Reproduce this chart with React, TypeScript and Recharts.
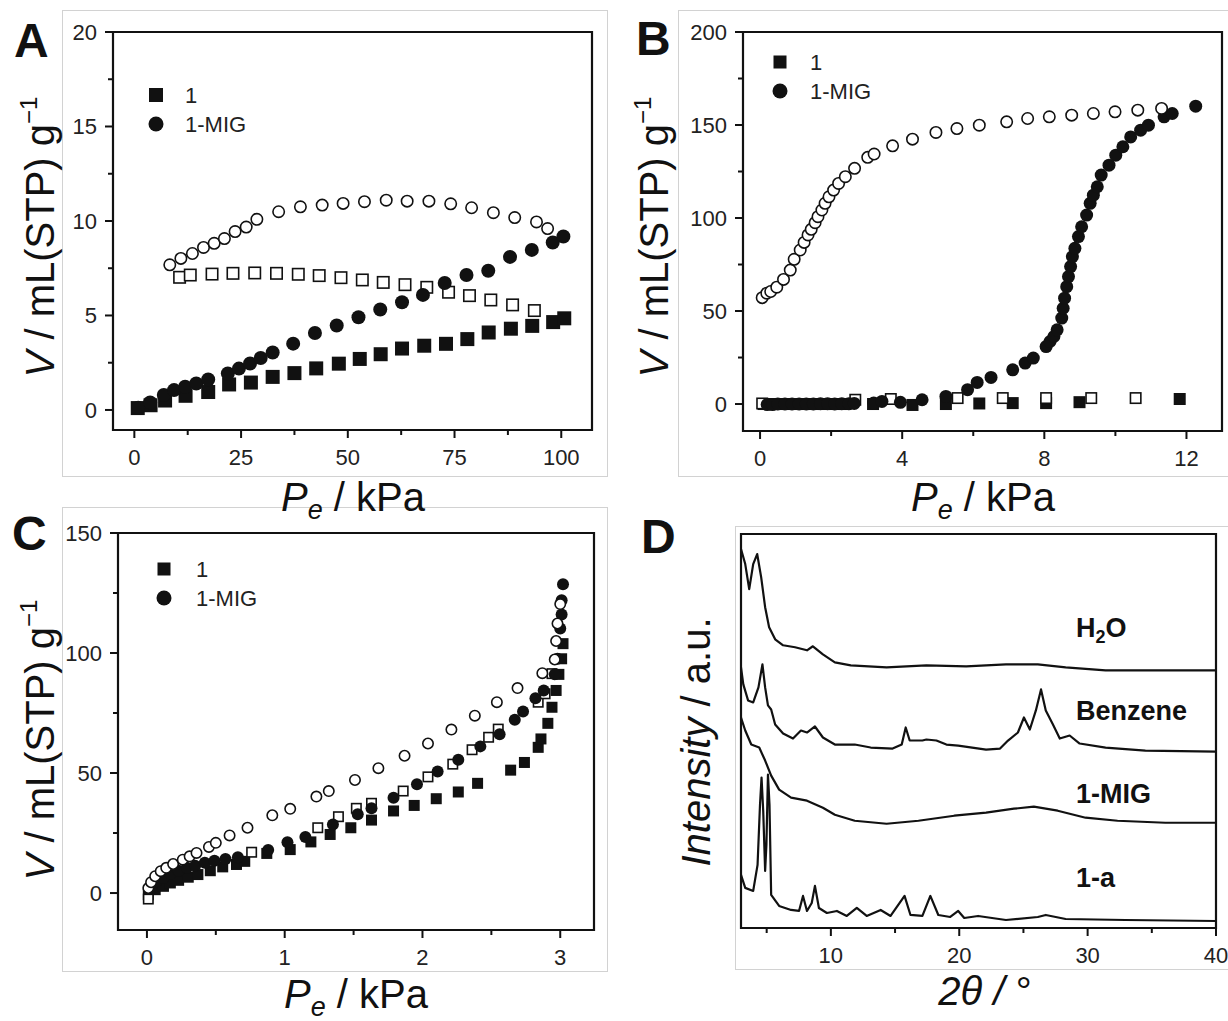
import React from "react"
import {
  ScatterChart,
  Scatter,
  LineChart,
  Line,
  XAxis,
  YAxis,
  ReferenceArea,
  Legend,
} from "recharts"

type Pt = [number, number]

// ---- panel A : 0-100 kPa isotherms ----
const A_1_ADS: Pt[] = [
  [0.8, 0.1], [3.8, 0.25], [7.2, 0.5], [12, 0.75], [17.3, 0.95], [22.2, 1.35],
  [27.3, 1.45], [32.4, 1.75], [37.5, 1.95], [42.6, 2.2], [47.9, 2.45], [52.8, 2.7],
  [57.7, 2.95], [62.7, 3.25], [67.9, 3.4], [73, 3.5], [78, 3.75], [83, 4.1],
  [88.2, 4.3], [93.2, 4.45], [98.1, 4.65], [100.7, 4.85],
]
const A_1_DES: Pt[] = [
  [10.6, 7.02], [13.1, 7.14], [18.2, 7.19], [23.1, 7.23], [28.2, 7.25], [33.3, 7.23],
  [38.4, 7.18], [43.3, 7.11], [48.4, 7.0], [53.4, 6.88], [58.3, 6.75], [63.4, 6.63],
  [68.5, 6.49], [73.6, 6.23], [78.5, 6.05], [83.5, 5.82], [88.6, 5.56], [93.7, 5.26],
]
const A_MIG_ADS: Pt[] = [
  [0.9, 0.12], [3.7, 0.4], [6.9, 0.79], [9.3, 1.05], [11.9, 1.23], [14.5, 1.4],
  [17.3, 1.61], [21.9, 1.93], [24.5, 2.19], [27.1, 2.46], [29.6, 2.75], [32.4, 3.04],
  [37.2, 3.51], [42.3, 4.07], [47.4, 4.47], [52.5, 4.91], [57.6, 5.32], [62.7, 5.7],
  [67.6, 6.09], [72.7, 6.72], [77.8, 7.14], [82.9, 7.37], [88, 8.1], [93.1, 8.47],
  [98, 8.86], [100.5, 9.18],
]
const A_MIG_DES: Pt[] = [
  [8.3, 7.68], [10.9, 8.02], [13.6, 8.28], [16.2, 8.6], [18.7, 8.82], [21.1, 9.07],
  [23.6, 9.44], [26.2, 9.68], [28.7, 10.09], [33.8, 10.49], [38.9, 10.75], [44, 10.84],
  [48.9, 10.93], [53.9, 11.02], [59, 11.1], [63.9, 11.05], [69, 11.05], [74.1, 10.91],
  [79, 10.7], [84.1, 10.44], [89.1, 10.18], [94.2, 9.95], [96.8, 9.6],
]
const A_X_TICKS = [0, 12.5, 25, 37.5, 50, 62.5, 75, 87.5, 100]
const A_X_MAJOR = [0, 25, 50, 75, 100]
const A_Y_TICKS = [0, 2.5, 5, 7.5, 10, 12.5, 15, 17.5, 20]
const A_Y_MAJOR = [0, 5, 10, 15, 20]

// ---- panel B : 0-12 kPa isotherms ----
const B_1_ADS: Pt[] = [
  [0.1, 0], [0.35, 0], [0.6, 0], [0.9, 0], [1.2, 0], [1.5, 0], [1.8, 0], [2.1, 0],
  [2.4, 0], [3.18, 0], [4.29, -0.5], [5.23, 0], [6.17, 0.3], [7.11, 0.5], [8.05, 0.5],
  [8.99, 1], [11.81, 2.7],
]
const B_1_DES: Pt[] = [
  [0.06, 0.3], [2.68, 2.3], [3.68, 2.7], [5.56, 3.2], [6.83, 3.2], [8.05, 3.2],
  [9.32, 3.2], [10.57, 3.2],
]
const B_MIG_ADS: Pt[] = [
  [0.2, -0.3], [0.35, -0.3], [0.5, 0], [0.7, 0], [0.9, 0], [1.1, 0], [1.3, 0],
  [1.5, 0], [1.7, 0.2], [1.9, 0.2], [2.1, 0], [2.3, 0.2], [2.5, 0.2], [2.65, 0.3],
  [3.2, 0.5], [3.43, 1.4], [3.95, 0.9], [4.56, 2.3], [5.23, 4.1], [5.84, 7.7],
  [6.11, 11.6], [6.5, 14.3], [7.11, 18.4], [7.46, 22], [7.69, 24.7], [8.05, 30.9],
  [8.16, 33.6], [8.27, 36.3], [8.36, 39.9], [8.49, 46.2], [8.53, 51.5], [8.57, 56.9],
  [8.63, 63.1], [8.68, 68.5], [8.74, 73.9], [8.79, 79.2], [8.86, 83.7], [8.96, 90],
  [9.05, 95.3], [9.19, 101.6], [9.29, 107.9], [9.38, 112.3], [9.49, 116.8],
  [9.6, 123.1], [9.82, 128.4], [10.01, 133.8], [10.21, 138.3], [10.43, 143.6],
  [10.71, 147.2], [10.93, 149.9], [11.37, 154.4], [11.6, 156.2], [12.26, 160.1],
]
const B_MIG_DES: Pt[] = [
  [0.06, 57.2], [0.19, 59.6], [0.3, 60.5], [0.47, 62.8], [0.66, 67], [0.85, 72],
  [0.96, 77.8], [1.13, 82.8], [1.24, 86.9], [1.35, 90.9], [1.44, 93.9], [1.55, 97.5],
  [1.63, 100.7], [1.74, 104.3], [1.83, 107.9], [1.94, 111.4], [2.07, 115], [2.21, 118.6],
  [2.4, 122.2], [2.66, 126.7], [3.03, 132.6], [3.21, 134.4], [3.73, 138.8], [4.29, 142.4],
  [4.95, 146], [5.54, 148.1], [6.17, 149.9], [6.94, 151.7], [7.53, 153.5], [8.14, 154.4],
  [8.77, 155.3], [9.38, 156.2], [9.99, 157.1], [10.63, 158], [11.3, 158.9],
]
const B_X_TICKS = [0, 2, 4, 6, 8, 10, 12]
const B_X_MAJOR = [0, 4, 8, 12]
const B_Y_TICKS = [0, 25, 50, 75, 100, 125, 150, 175, 200]
const B_Y_MAJOR = [0, 50, 100, 150, 200]

// ---- panel C : 0-3 kPa isotherms ----
const C_1_ADS: Pt[] = [
  [0.01, -0.7], [0.06, 1.4], [0.12, 2.8], [0.17, 4.2], [0.23, 5.3], [0.3, 6.6],
  [0.37, 7.7], [0.46, 9.3], [0.55, 10.9], [0.65, 11.9], [0.71, 13.2], [0.87, 16.5],
  [1.04, 18.1], [1.19, 21.3], [1.33, 24.4], [1.48, 27.2], [1.63, 30.4], [1.79, 34.2],
  [1.94, 36.5], [2.1, 39.3], [2.26, 42.1], [2.4, 45.7], [2.64, 51.2], [2.74, 54.4],
  [2.84, 60.7], [2.86, 64.2], [2.91, 70.7], [2.94, 77.4], [2.97, 84.4], [2.99, 91.1],
  [3.01, 97.6], [3.02, 103.9],
]
const C_1_DES: Pt[] = [
  [0.01, -2.5], [0.76, 17], [1.24, 27.2], [1.39, 31.8], [1.52, 35.3], [1.63, 37.4],
  [1.86, 42.5], [2.04, 48.4], [2.22, 53.7], [2.36, 59.7], [2.48, 64.9], [2.55, 68.3],
  [2.84, 79.5], [2.89, 83], [2.94, 91.4],
]
const C_MIG_ADS: Pt[] = [
  [0.03, 2.1], [0.07, 4.9], [0.12, 6.3], [0.17, 7.9], [0.23, 9.3], [0.29, 10.5],
  [0.35, 11.4], [0.42, 12.6], [0.49, 13.5], [0.57, 14.2], [0.66, 14.9], [0.88, 17.9],
  [1.02, 21.2], [1.15, 23.3], [1.35, 28.6], [1.53, 32.8], [1.63, 35.3], [1.79, 39.7],
  [1.96, 45.3], [2.11, 50.6], [2.26, 55.5], [2.42, 61.1], [2.56, 66.2], [2.67, 72.2],
  [2.73, 75.6], [2.82, 81.2], [2.88, 84.4], [2.96, 91.1], [2.98, 97.6], [3.0, 110.2],
  [3.01, 116], [3.01, 122], [3.02, 128.6],
]
const C_MIG_DES: Pt[] = [
  [0.01, 2.1], [0.03, 4.5], [0.06, 7], [0.1, 9.1], [0.14, 10.5], [0.19, 12.1],
  [0.26, 13.9], [0.31, 15.3], [0.36, 16.7], [0.45, 19.2], [0.5, 20.9], [0.6, 24],
  [0.73, 27.2], [0.91, 32.4], [1.04, 35.1], [1.23, 40.2], [1.32, 42.5], [1.51, 47.1],
  [1.68, 52], [1.87, 57.2], [2.04, 62.3], [2.21, 68.1], [2.38, 73.9], [2.54, 79.5],
  [2.69, 85.4], [2.87, 91.6], [2.96, 97.3], [2.97, 105], [2.98, 112.3], [3.0, 120.4],
]
const C_X_TICKS = [0, 0.5, 1, 1.5, 2, 2.5, 3]
const C_X_MAJOR = [0, 1, 2, 3]
const C_Y_TICKS = [0, 25, 50, 75, 100, 125, 150]
const C_Y_MAJOR = [0, 50, 100, 150]

// ---- panel D : PXRD patterns (offset intensity, a.u.) ----
const D_H2O: Pt[] = [
  [3, 378], [3.33, 363], [3.64, 338], [3.95, 363], [4.26, 373], [4.57, 350], [4.88, 320],
  [5.19, 300], [5.66, 288], [6.28, 282], [7.21, 280], [8.14, 277], [8.6, 281],
  [9.38, 273], [10.31, 265], [11.55, 262], [14.34, 260], [17.44, 262], [20.54, 261],
  [23.64, 263], [26.12, 263], [28.29, 260], [31.4, 257], [36.05, 257], [40, 257],
]
const D_BENZENE: Pt[] = [
  [3, 260], [3.18, 243], [3.55, 227], [3.95, 225], [4.36, 240], [4.67, 263], [4.88, 240],
  [5.1, 222], [5.35, 218], [5.66, 203], [6.28, 194], [7.05, 189], [7.67, 197],
  [8.14, 195], [8.76, 201], [9.38, 190], [10.31, 183], [11.86, 183], [13.1, 180],
  [14.81, 179], [15.52, 183], [15.83, 200], [16.14, 187], [17.13, 187], [17.44, 188],
  [18.22, 187], [19, 183], [19.92, 182], [22.09, 178], [23.18, 179], [23.8, 187],
  [24.57, 195], [25.04, 210], [25.5, 198], [25.97, 217], [26.37, 238], [26.74, 217],
  [27.3, 203], [27.83, 189], [28.6, 192], [29.38, 184], [31.4, 180], [34.5, 177],
  [40, 176],
]
const D_MIG: Pt[] = [
  [3, 210], [3.33, 197], [3.8, 183], [4.42, 180], [4.88, 167], [5.35, 152], [5.97, 138],
  [6.9, 130], [8.14, 127], [9.38, 120], [10.31, 113], [11.86, 107], [14.34, 104],
  [16.82, 107], [19.61, 112], [22.09, 115], [24.26, 119], [25.81, 121], [27.67, 117],
  [29.84, 110], [32.33, 107], [36.05, 105], [40, 105],
]
const D_1A: Pt[] = [
  [3, 53], [3.33, 40], [3.95, 37], [4.29, 63], [4.48, 123], [4.6, 150], [4.73, 117],
  [4.88, 57], [4.98, 83], [5.1, 153], [5.22, 123], [5.35, 33], [5.97, 22], [6.9, 18],
  [7.52, 17], [7.83, 32], [8.14, 17], [8.51, 25], [8.76, 42], [9.07, 20], [9.69, 15],
  [10.47, 17], [11.24, 12], [12.02, 20], [12.79, 12], [13.88, 18], [14.65, 12],
  [15.74, 32], [16.2, 13], [17.13, 12], [17.75, 32], [18.37, 13], [19.3, 11],
  [19.92, 17], [20.39, 10], [21.47, 12], [23.64, 8], [26.12, 11], [26.74, 13],
  [28.29, 9], [32.95, 8], [40, 7],
]
const D_X_TICKS = [5, 10, 15, 20, 25, 30, 35, 40]
const D_X_MAJOR = [10, 20, 30, 40]

const LEGEND_ITEMS = [
  { label: "1", kind: "square" },
  { label: "1-MIG", kind: "circle" },
]

const FONT = "'Liberation Sans', Arial, Helvetica, sans-serif"
const INK = "#111"
const FRAME = "#d2d2d2"
// room given to the axes themselves; the rest of the offset is chart margin
const X_AXIS_H = 30
const Y_AXIS_W = 50

const toXY = (pts: Pt[]) => pts.map(([x, y]) => ({ x, y }))

function marker(kind: string, filled: boolean, size: number) {
  return (props: any) => {
    const { cx, cy } = props
    if (cx == null || cy == null) return <g />
    const h = size / 2
    if (kind === "square") {
      return filled ? (
        <rect x={cx - h} y={cy - h} width={size} height={size} fill={INK} />
      ) : (
        <rect x={cx - h + 0.8} y={cy - h + 0.8} width={size - 1.6} height={size - 1.6}
          fill="#fff" stroke={INK} strokeWidth={1.6} />
      )
    }
    return filled ? (
      <circle cx={cx} cy={cy} r={h} fill={INK} />
    ) : (
      <circle cx={cx} cy={cy} r={h - 0.8} fill="#fff" stroke={INK} strokeWidth={1.6} />
    )
  }
}

function xTick(majors: number[]) {
  return (props: any) => {
    const { x, y, payload } = props
    const major = majors.includes(payload.value)
    return (
      <g>
        <line x1={x} x2={x} y1={y} y2={y + (major ? 8 : 5)} stroke={INK} strokeWidth={2} />
        {major && (
          <text x={x} y={y + 35} textAnchor="middle" fontSize={22} fill="#222">
            {payload.value}
          </text>
        )}
      </g>
    )
  }
}

function yTick(majors: number[]) {
  return (props: any) => {
    const { x, y, payload } = props
    const major = majors.includes(payload.value)
    return (
      <g>
        <line x1={x} x2={x - (major ? 8 : 5)} y1={y} y2={y} stroke={INK} strokeWidth={2} />
        {major && (
          <text x={x - 16} y={y + 8} textAnchor="end" fontSize={22} fill="#222">
            {payload.value}
          </text>
        )}
      </g>
    )
  }
}

function legendBox(sq: number, ci: number, gap: number) {
  return () => (
    <svg width={140} height={60} style={{ overflow: "visible", fontFamily: FONT }}>
      {LEGEND_ITEMS.map((item, i) => {
        const cy = 15 + i * 29
        return (
          <g key={item.label}>
            {item.kind === "square" ? (
              <rect x={16 - sq / 2} y={cy - sq / 2} width={sq} height={sq} fill={INK} />
            ) : (
              <circle cx={16} cy={cy} r={ci / 2} fill={INK} />
            )}
            <text x={16 + gap} y={cy + 8} fontSize={22} fill="#222">
              {item.label}
            </text>
          </g>
        )
      })}
    </svg>
  )
}

type Box = { top: number; right: number; bottom: number; left: number }

// box = wanted plot-area insets inside the chart; subtract the axis room
const marginFor = (b: Box) => ({
  top: b.top,
  right: b.right,
  bottom: b.bottom - X_AXIS_H,
  left: b.left - Y_AXIS_W,
})

type IsoProps = {
  left: number
  top: number
  width: number
  height: number
  box: Box
  xDomain: [number, number]
  yDomain: [number, number]
  xTicks: number[]
  xMajor: number[]
  yTicks: number[]
  yMajor: number[]
  series: { pts: Pt[]; kind: string; filled: boolean; size: number }[]
  legendPos: { left: number; top: number }
  legendSizes: [number, number, number]
}

function IsoPanel(p: IsoProps) {
  return (
    <div style={{ position: "absolute", left: p.left, top: p.top }}>
      <ScatterChart width={p.width} height={p.height} margin={marginFor(p.box)}>
        <XAxis
          type="number"
          dataKey="x"
          domain={p.xDomain}
          allowDataOverflow
          ticks={p.xTicks}
          interval={0}
          height={X_AXIS_H}
          tickSize={0}
          tickMargin={0}
          tickLine={false}
          axisLine={false}
          tick={xTick(p.xMajor)}
        />
        <YAxis
          type="number"
          dataKey="y"
          domain={p.yDomain}
          allowDataOverflow
          ticks={p.yTicks}
          interval={0}
          width={Y_AXIS_W}
          tickSize={0}
          tickMargin={0}
          tickLine={false}
          axisLine={false}
          tick={yTick(p.yMajor)}
        />
        <ReferenceArea
          x1={p.xDomain[0]}
          x2={p.xDomain[1]}
          y1={p.yDomain[0]}
          y2={p.yDomain[1]}
          fill="none"
          stroke={INK}
          strokeWidth={2.2}
          ifOverflow="visible"
        />
        {p.series.map((s, i) => (
          <Scatter
            key={i}
            data={toXY(s.pts)}
            shape={marker(s.kind, s.filled, s.size)}
            isAnimationActive={false}
          />
        ))}
        <Legend
          layout="horizontal"
          align="center"
          verticalAlign="middle"
          content={legendBox(p.legendSizes[0], p.legendSizes[1], p.legendSizes[2])}
          wrapperStyle={{ left: p.legendPos.left, top: p.legendPos.top, width: 140, height: 60 }}
        />
      </ScatterChart>
    </div>
  )
}

function XrdPanel() {
  const curves = [D_H2O, D_BENZENE, D_MIG, D_1A]
  return (
    <div style={{ position: "absolute", left: 620, top: 500 }}>
      <LineChart width={608} height={500}
        margin={marginFor({ top: 34, right: 12, bottom: 72, left: 121 })}>
        <XAxis
          type="number"
          dataKey="x"
          domain={[3, 40]}
          allowDataOverflow
          ticks={D_X_TICKS}
          interval={0}
          height={X_AXIS_H}
          tickSize={0}
          tickMargin={0}
          tickLine={false}
          axisLine={false}
          tick={xTick(D_X_MAJOR)}
        />
        <YAxis type="number" dataKey="y" domain={[0, 393]} allowDataOverflow width={Y_AXIS_W}
          tick={false} tickLine={false} axisLine={false} />
        <ReferenceArea x1={3} x2={40} y1={0} y2={393} fill="none" stroke={INK} strokeWidth={2.2}
          ifOverflow="visible" />
        {curves.map((c, i) => (
          <Line
            key={i}
            data={toXY(c)}
            dataKey="y"
            type="linear"
            stroke={INK}
            strokeWidth={2.2}
            strokeLinejoin="round"
            dot={false}
            isAnimationActive={false}
          />
        ))}
      </LineChart>
    </div>
  )
}

function Frame({ l, t, w, h, openRight }: { l: number; t: number; w: number; h: number; openRight?: boolean }) {
  return (
    <div
      style={{
        position: "absolute",
        left: l,
        top: t,
        width: w,
        height: h,
        boxSizing: "border-box",
        border: `1.5px solid ${FRAME}`,
        borderRight: openRight ? "none" : `1.5px solid ${FRAME}`,
      }}
    />
  )
}

function PeTitle({ x, y }: { x: number; y: number }) {
  return (
    <text x={x} y={y} textAnchor="middle" fontSize={40} fill={INK}>
      <tspan fontStyle="italic">P</tspan>
      <tspan fontStyle="italic" fontSize={27} dy={8}>e</tspan>
      <tspan dy={-8}>{" / kPa"}</tspan>
    </text>
  )
}

function VTitle({ x, y }: { x: number; y: number }) {
  return (
    <text transform={`translate(${x},${y}) rotate(-90)`} textAnchor="middle" fontSize={40} fill={INK}>
      <tspan fontStyle="italic">V</tspan>
      <tspan>{" / mL(STP) g"}</tspan>
      <tspan fontSize={24} dy={-17}>{"\u22121"}</tspan>
    </text>
  )
}

export default function App() {
  return (
    <div
      style={{
        position: "absolute",
        left: 0,
        top: 0,
        width: 1228,
        height: 1021,
        overflow: "hidden",
        background: "#fff",
        fontFamily: FONT,
      }}
    >
      <Frame l={62} t={10} w={546} h={467} />
      <Frame l={678} t={10} w={550} h={467} openRight />
      <Frame l={62} t={507} w={546} h={465} />
      <Frame l={735} t={526} w={493} h={444} openRight />

      <IsoPanel
        left={0}
        top={0}
        width={620}
        height={480}
        box={{ top: 32, right: 28, bottom: 50, left: 113 }}
        xDomain={[-5, 107.2]}
        yDomain={[-1.06, 20]}
        xTicks={A_X_TICKS}
        xMajor={A_X_MAJOR}
        yTicks={A_Y_TICKS}
        yMajor={A_Y_MAJOR}
        series={[
          { pts: A_1_ADS, kind: "square", filled: true, size: 14 },
          { pts: A_1_DES, kind: "square", filled: false, size: 13 },
          { pts: A_MIG_ADS, kind: "circle", filled: true, size: 14 },
          { pts: A_MIG_DES, kind: "circle", filled: false, size: 13 },
        ]}
        legendPos={{ left: 140, top: 80 }}
        legendSizes={[14, 15, 29]}
      />
      <IsoPanel
        left={620}
        top={0}
        width={608}
        height={480}
        box={{ top: 32, right: 6, bottom: 49, left: 123 }}
        xDomain={[-0.48, 13.0]}
        yDomain={[-14.5, 200]}
        xTicks={B_X_TICKS}
        xMajor={B_X_MAJOR}
        yTicks={B_Y_TICKS}
        yMajor={B_Y_MAJOR}
        series={[
          { pts: B_1_ADS, kind: "square", filled: true, size: 12 },
          { pts: B_1_DES, kind: "square", filled: false, size: 12 },
          { pts: B_MIG_ADS, kind: "circle", filled: true, size: 13 },
          { pts: B_MIG_DES, kind: "circle", filled: false, size: 13 },
        ]}
        legendPos={{ left: 144, top: 47 }}
        legendSizes={[13, 15, 30]}
      />
      <IsoPanel
        left={0}
        top={500}
        width={620}
        height={500}
        box={{ top: 33, right: 26, bottom: 70, left: 118 }}
        xDomain={[-0.21, 3.245]}
        yDomain={[-15.4, 150]}
        xTicks={C_X_TICKS}
        xMajor={C_X_MAJOR}
        yTicks={C_Y_TICKS}
        yMajor={C_Y_MAJOR}
        series={[
          { pts: C_1_ADS, kind: "square", filled: true, size: 11 },
          { pts: C_1_DES, kind: "square", filled: false, size: 11 },
          { pts: C_MIG_ADS, kind: "circle", filled: true, size: 12 },
          { pts: C_MIG_DES, kind: "circle", filled: false, size: 12 },
        ]}
        legendPos={{ left: 148, top: 54 }}
        legendSizes={[13, 15, 32]}
      />
      <XrdPanel />

      <svg
        width={1228}
        height={1021}
        style={{ position: "absolute", left: 0, top: 0, pointerEvents: "none", fontFamily: FONT }}
      >
        <text x={14} y={57} fontSize={48} fontWeight="bold" fill={INK}>A</text>
        <text x={636} y={55} fontSize={48} fontWeight="bold" fill={INK}>B</text>
        <text x={12} y={550} fontSize={48} fontWeight="bold" fill={INK}>C</text>
        <text x={641} y={553} fontSize={48} fontWeight="bold" fill={INK}>D</text>

        <PeTitle x={353} y={511} />
        <PeTitle x={983} y={511} />
        <PeTitle x={356} y={1008} />
        <VTitle x={54} y={237} />
        <VTitle x={668} y={237} />
        <VTitle x={54} y={740} />

        <text transform="translate(710,742) rotate(-90)" textAnchor="middle" fontSize={40} fill={INK}>
          <tspan fontStyle="italic">Intensity</tspan>
          <tspan>{" / a.u."}</tspan>
        </text>
        <text x={985} y={1005} textAnchor="middle" fontSize={40} fill={INK}>
          <tspan fontStyle="italic">{"2\u03b8 / "}</tspan>
          <tspan>{"\u00b0"}</tspan>
        </text>

        <text x={1076} y={637} fontSize={27} fontWeight="bold" fill={INK}>
          <tspan>H</tspan>
          <tspan fontSize={18} dy={6}>2</tspan>
          <tspan dy={-6}>O</tspan>
        </text>
        <text x={1076} y={720} fontSize={27} fontWeight="bold" fill={INK}>Benzene</text>
        <text x={1076} y={803} fontSize={27} fontWeight="bold" fill={INK}>1-MIG</text>
        <text x={1076} y={887} fontSize={27} fontWeight="bold" fill={INK}>1-a</text>
      </svg>
    </div>
  )
}
